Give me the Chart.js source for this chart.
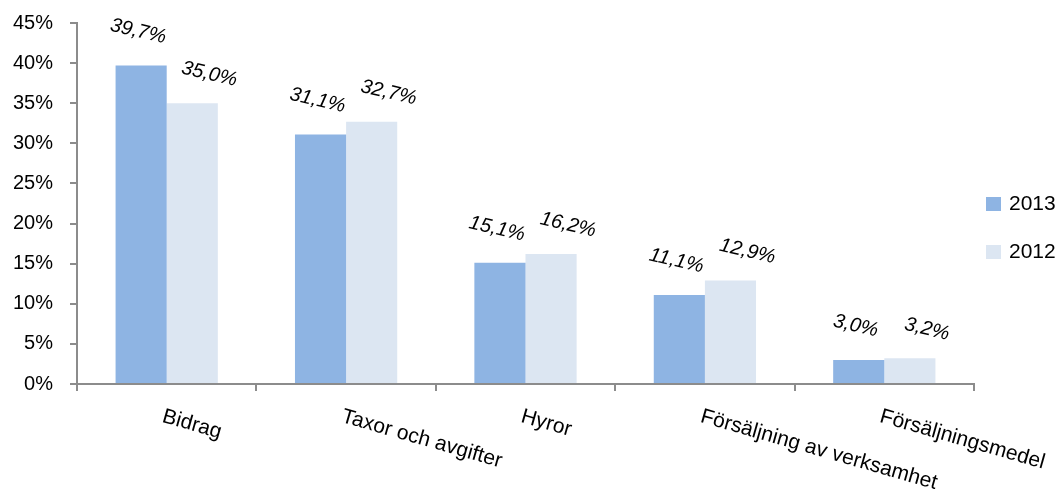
<!DOCTYPE html>
<html>
<head>
<meta charset="utf-8">
<script src="https://cdn.jsdelivr.net/npm/chart.js@4"></script>
<style>
  html, body { margin: 0; padding: 0; background: #fff; }
  #wrap { width: 1063px; height: 489px; position: relative; }
</style>
</head>
<body>
<div id="wrap"><canvas id="myChart" width="1063" height="489"></canvas></div>
<script>
// data
const kategorier = ['Bidrag', 'Taxor och avgifter', 'Hyror', 'Försäljning av verksamhet', 'Försäljningsmedel'];
const serieNamn = ['2013', '2012'];
const varden2013 = [39.7, 31.1, 15.1, 11.1, 3.0];
const varden2012 = [35.0, 32.7, 16.2, 12.9, 3.2];
const yTicks = [0, 5, 10, 15, 20, 25, 30, 35, 40, 45];

const farger = ['#8EB4E3', '#DCE6F2'];
const axelFarg = '#8c8c8c';
const typsnitt = '"Liberation Sans", Arial, sans-serif';

function procent(v) {
    return v.toFixed(1).replace('.', ',') + '%';
}

// axis labels, data labels and legend drawn by hand
const ritaText = {
    id: 'ritaText',
    afterDraw(chart) {
        const ctx = chart.ctx;
        const x = chart.scales.x;
        const y = chart.scales.y;
        const vinkel = 16 * Math.PI / 180;

        ctx.save();
        ctx.fillStyle = '#000';

        // y tick labels
        ctx.font = '20px ' + typsnitt;
        ctx.textAlign = 'right';
        ctx.textBaseline = 'middle';
        yTicks.forEach(v => {
            ctx.fillText(v + '%', 53, y.getPixelForValue(v));
        });

        // rotated category labels
        ctx.font = '21px ' + typsnitt;
        ctx.textAlign = 'left';
        ctx.textBaseline = 'top';
        kategorier.forEach((kat, i) => {
            const px = x.getPixelForValue(i);
            ctx.save();
            ctx.translate(px - 1, 406);
            ctx.rotate(vinkel);
            ctx.fillText(kat, 0, 0);
            ctx.restore();
        });

        // data labels, italic and a bit tilted
        const forskj = [{ dx: -3, dy: -34 }, { dx: 17, dy: -29 }];
        ctx.font = 'italic 20px ' + typsnitt;
        ctx.textAlign = 'center';
        ctx.textBaseline = 'middle';
        chart.data.datasets.forEach((ds, d) => {
            const meta = chart.getDatasetMeta(d);
            meta.data.forEach((bar, i) => {
                ctx.save();
                ctx.translate(bar.x + forskj[d].dx, bar.y + forskj[d].dy);
                ctx.rotate(13 * Math.PI / 180);
                ctx.fillText(procent(ds.data[i]), 0, 0);
                ctx.restore();
            });
        });

        // legend
        ctx.font = '21px ' + typsnitt;
        ctx.textAlign = 'left';
        ctx.textBaseline = 'middle';
        serieNamn.forEach((namn, i) => {
            const ly = 204 + i * 48;
            ctx.fillStyle = farger[i];
            ctx.fillRect(986, ly - 7, 15, 14);
            ctx.fillStyle = '#000';
            ctx.fillText(namn, 1009, ly);
        });
        ctx.restore();
    }
};

var ctx = document.getElementById('myChart').getContext('2d');
var myChart = new Chart(ctx, {
    type: 'bar',
    data: {
        labels: kategorier,
        datasets: [{
            label: serieNamn[0],
            data: varden2013,
            backgroundColor: farger[0],
            borderWidth: 0
        }, {
            label: serieNamn[1],
            data: varden2012,
            backgroundColor: farger[1],
            borderWidth: 0
        }]
    },
    options: {
        responsive: false,
        animation: false,
        layout: {
            autoPadding: false,
            padding: { left: 0, right: 89, top: 23, bottom: 0 }
        },
        plugins: {
            legend: { display: false },
            tooltip: { enabled: false }
        },
        datasets: {
            bar: { categoryPercentage: 0.57, barPercentage: 1.0 }
        },
        scales: {
            x: {
                offset: true,
                grid: {
                    offset: true,
                    drawOnChartArea: false,
                    drawTicks: true,
                    tickLength: 7,
                    color: axelFarg,
                    lineWidth: 2
                },
                border: { color: axelFarg, width: 2 },
                ticks: { display: false },
                afterFit(scale) { scale.height = 105; }
            },
            y: {
                min: 0,
                max: 45,
                afterBuildTicks(scale) {
                    scale.ticks = yTicks.map(v => ({ value: v }));
                },
                grid: {
                    drawOnChartArea: false,
                    drawTicks: true,
                    tickLength: 7,
                    color: axelFarg,
                    lineWidth: 2
                },
                border: { color: axelFarg, width: 2 },
                ticks: { display: false },
                afterFit(scale) { scale.width = 77; }
            }
        }
    },
    plugins: [ritaText]
});
</script>
</body>
</html>
